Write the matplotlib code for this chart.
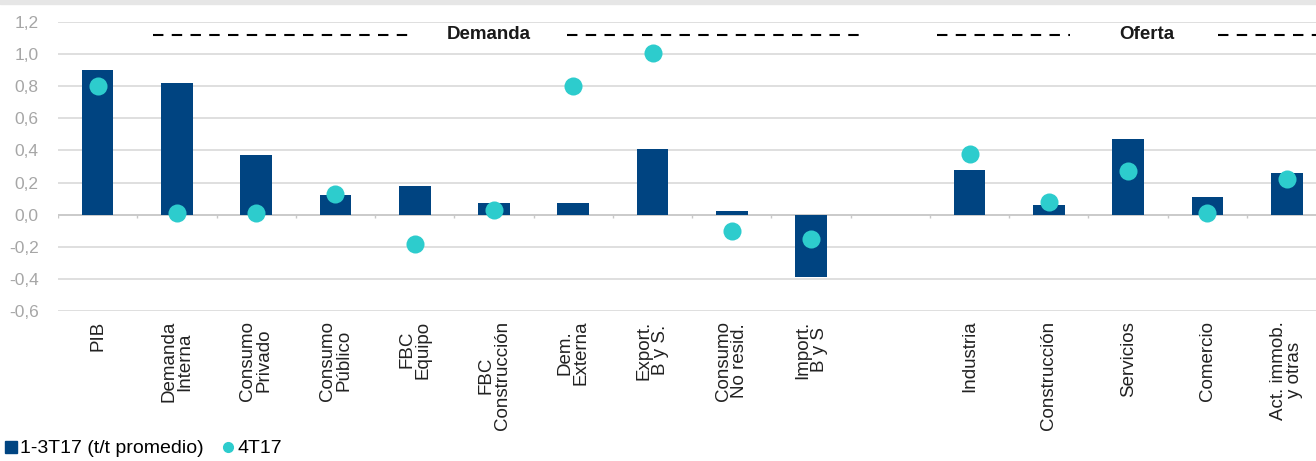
import numpy as np
import matplotlib
matplotlib.use("Agg")
import matplotlib.pyplot as plt
from matplotlib.lines import Line2D
from matplotlib.ticker import FuncFormatter

plt.rcParams['font.family'] = ['Liberation Sans', 'DejaVu Sans']

categories = ["PIB", "Demanda\nInterna", "Consumo\nPrivado", "Consumo\nPúblico",
              "FBC\nEquipo", "FBC\nConstrucción", "Dem.\nExterna", "Export.\nB y S.",
              "Consumo\nNo resid.", "Import.\nB y S", "", "Industria", "Construcción",
              "Servicios", "Comercio", "Act. immob.\ny otras"]
avg_1_3t17 = [0.90, 0.82, 0.37, 0.12, 0.18, 0.07, 0.07, 0.41, 0.02, -0.39,
              np.nan, 0.28, 0.06, 0.47, 0.11, 0.26]
q4t17 = [0.80, 0.01, 0.01, 0.13, -0.18, 0.03, 0.80, 1.01, -0.10, -0.15,
         np.nan, 0.38, 0.08, 0.27, 0.01, 0.22]
yticks = [-0.6, -0.4, -0.2, 0.0, 0.2, 0.4, 0.6, 0.8, 1.0, 1.2]
series_names = ["1-3T17 (t/t promedio)", "4T17"]

BAR = "#004481"
DOT = "#2dcccd"
GRID = "#d9d9d9"

fig = plt.figure(figsize=(13.16, 4.61), dpi=100)
fig.patches.append(plt.Rectangle((0, 1 - 4/461), 1, 4/461, transform=fig.transFigure,
                                 color="#e6e6e6", zorder=0))
ax = fig.add_axes([58/1316, 1 - 311/461, 1 - 58/1316, (311 - 22)/461])

x = np.arange(len(categories))
ax.bar(x, avg_1_3t17, width=0.40, color=BAR, zorder=3)
ax.plot(x, q4t17, 'o', color=DOT, markersize=13, markeredgewidth=0, zorder=4)

ax.set_ylim(-0.6, 1.2)
ax.set_xlim(-0.5, 15.37)
ax.set_yticks(yticks)
ax.yaxis.set_major_formatter(FuncFormatter(lambda v, p: f"{v:.1f}".replace(".", ",")))
ax.grid(axis='y', color=GRID, linewidth=1.2, zorder=0)
ax.set_axisbelow(True)
for s in ax.spines.values():
    s.set_visible(False)
ax.tick_params(axis='y', length=0, labelsize=12.5, labelcolor="#a6a6a6", pad=14)
ax.set_xticks(x)
ax.set_xticklabels(categories, rotation=90, ha='center', va='top',
                   multialignment='center', fontsize=13.5, color="#222222",
                   linespacing=0.95)
ax.tick_params(axis='x', length=0, pad=7)

# zero line with category boundary ticks
ax.axhline(0, color="#c8c8c8", linewidth=1.2, zorder=2)
bounds = np.arange(len(categories) + 1) - 0.5
ax.vlines(bounds, -0.018, 0, color="#c8c8c8", linewidth=1, zorder=2)

# section headers
yh = 1.12
dash = dict(color="black", linewidth=1.5, linestyle=(0, (5, 4)))
ax.plot([0.70, 3.98], [yh, yh], **dash)
ax.plot([5.92, 9.6], [yh, yh], **dash)
ax.text(4.93, yh, "Demanda", ha='center', va='center', fontsize=13.5, fontweight='bold',
        color="#1a1a1a")
ax.plot([10.59, 12.27], [yh, yh], **dash)
ax.plot([14.13, 15.5], [yh, yh], **dash)
ax.text(13.23, yh, "Oferta", ha='center', va='center', fontsize=13.5, fontweight='bold',
        color="#1a1a1a")

handles = [Line2D([], [], marker='s', linestyle='none', color=BAR, markersize=8),
           Line2D([], [], marker='o', linestyle='none', color=DOT, markersize=7)]
fig.legend(handles, series_names, loc='lower left', bbox_to_anchor=(-0.011, -0.03),
           ncol=2, frameon=False, fontsize=14, handletextpad=0.05, columnspacing=0.9,
           handlelength=0.8)

fig.savefig("out.png", dpi=100)
